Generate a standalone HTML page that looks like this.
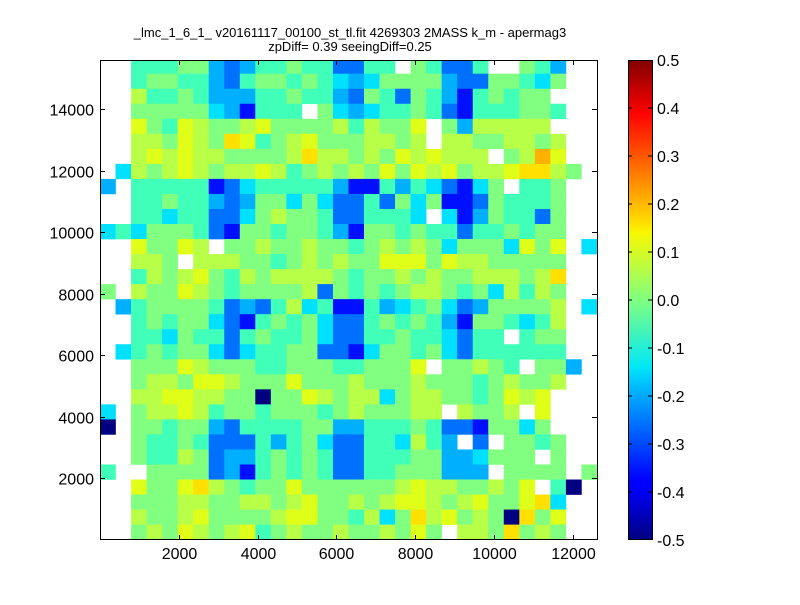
<!DOCTYPE html>
<html><head><meta charset="utf-8"><style>
body{margin:0;background:#fff;width:800px;height:600px;overflow:hidden}
svg text{font-family:"Liberation Sans",sans-serif}
</style></head><body>
<svg id="s" width="800" height="600" xmlns="http://www.w3.org/2000/svg">
<defs><linearGradient id="jet" x1="0" y1="1" x2="0" y2="0">
<stop offset="0" stop-color="#000080"/><stop offset="0.11" stop-color="#0000ff"/>
<stop offset="0.125" stop-color="#0000ff"/><stop offset="0.34" stop-color="#00d0ff"/>
<stop offset="0.36" stop-color="#00e8f8"/><stop offset="0.5" stop-color="#80ff80"/>
<stop offset="0.64" stop-color="#f8f800"/><stop offset="0.66" stop-color="#ffe000"/>
<stop offset="0.89" stop-color="#ff0000"/><stop offset="1" stop-color="#800000"/>
</linearGradient></defs>
<g id="cells"></g>
<rect x="100.5" y="60.5" width="497" height="479" fill="none" stroke="#000" stroke-width="1"/>
<g id="ticks" stroke="#000" stroke-width="1"></g>
<g font-size="16" text-anchor="middle" id="xl"></g>
<g font-size="16" text-anchor="end" id="yl"></g>
<text x="350" y="37" font-size="13" text-anchor="middle">_lmc_1_6_1_ v20161117_00100_st_tl.fit 4269303 2MASS k_m - apermag3</text>
<text x="350" y="51" font-size="13" text-anchor="middle">zpDiff= 0.39 seeingDiff=0.25</text>
<rect x="628" y="60" width="24" height="480" fill="url(#jet)"/>
<rect x="628.5" y="60.5" width="24" height="479" fill="none" stroke="#000"/>
<g id="cb" font-size="16" stroke="#000"></g>
</svg>
<script>
var rows=[
"WWtttggLBLttgttBBttWgtBBtWWgtLWW",
"WWtggttLBtggtgtcLcggggLBBggtcgWW",
"WWyttgtLLLttgttLBgtBgtLDtgtggWWW",
"WWgggggcLDtttWgcLcttgtBDtttggtWW",
"WWYgtYyggyYggggytyggYWgLyyyyyWWW",
"WWyygYygOYtgyYgggyygyWyyggyygyWW",
"WWyYyYyyggggyOyygygYyYyyyWgyoYWW",
"WcygyYygyyYytgygygYgYyYgyyYOOygW",
"LWtttttDBctttttLDDtLtcBDcgWttgWW",
"WWttgttLBLggcgcBBtBgcgDDBgtttgWW",
"WWttcttBBcgyggtBBtttcWcDLgttBgWW",
"ctcgggtBDggtggtLDggtgttBttgtggWW",
"WWYggYyWggyggyggtgygygcgggcYgYWc",
"WWyygWyyyggtgygyggYYYgYyygggggWW",
"WWtygyYgtygyyyygtggygyggyyygyOWW",
"gWyggYygtggggyBgtgtgyygtgcytygWW",
"WLtggggtBLBtyctDDtLctgcBLggggyWc",
"WWtgtggcBDtgtgcBBtgtgtLDggtctyWW",
"WWttcgttBtgttgcBBttgttcBttWtggWW",
"WctgtggcBcttggBBDcggtgcBttttttWW",
"WWgggYygggttgggttgggYWggygtWggLW",
"WWgyygYYygggYgggygggygggtgyggyWW",
"WWyyYYyyggNggYygyycgyyggtgYyYWWW",
"cWgyyYytggtgggtgygggyyWyggyWYWWW",
"NWggtggLBttttggLLtttgtBBDggcgWWW",
"WWgttgtBBBtLtgcBBttcytLWBWggtgWW",
"WWgttygBLLtgtgtBBtttggLLcgggWgWW",
"tWWggggBLDtgtgtBBttgggLLLWggggWg",
"WWYggYOygtggYggggggyYyyggygYWtNW",
"WWgggyyggyygyYggygyYYygyYggYOcWW",
"WWyggyYggggyYYggtycgOyYgygNOgYWW",
"WWgygYygyYtgyggyggygYgWyygOgygWW"];
var col={N:"#000080",D:"#0010ff",B:"#0070ff",L:"#00b0ff",c:"#00e0ff",t:"#40ffb8",g:"#80ff80",y:"#b8ff48",Y:"#e0ff18",O:"#ffe000",o:"#ffb000"};
var h="",cw=15.53,rh=15.03;
for(var r=0;r<rows.length;r++){var s=rows[r];
 var y0=r==0?60:73.7+rh*(r-1),y1=73.7+rh*r;
 for(var c=0;c<32;c++){var k=s[c];if(!k||k=="W")continue;
  var x0=100+cw*c;
  h+='<rect x="'+x0.toFixed(2)+'" y="'+y0.toFixed(2)+'" width="'+(cw+0.3).toFixed(2)+'" height="'+(y1-y0+0.3).toFixed(2)+'" fill="'+col[k]+'"/>';}}
document.getElementById("cells").innerHTML=h;
var t="",xl="",yl="",cb="";
for(var v=2000;v<=12000;v+=2000){var x=100+v*0.0394;x=Math.round(x)+0.5;
 t+='<line x1="'+x+'" y1="540" x2="'+x+'" y2="535"/><line x1="'+x+'" y1="60" x2="'+x+'" y2="65"/>';
 xl+='<text x="'+x+'" y="559">'+v+'</text>';}
for(var v=2000;v<=14000;v+=2000){var y=539.5-v*0.03075;y=Math.round(y)+0.5;
 t+='<line x1="100" y1="'+y+'" x2="105" y2="'+y+'"/><line x1="597" y1="'+y+'" x2="592" y2="'+y+'"/>';
 yl+='<text x="94" y="'+(y+6)+'">'+v+'</text>';}
document.getElementById("ticks").innerHTML=t;
document.getElementById("xl").innerHTML=xl;
document.getElementById("yl").innerHTML=yl;
for(var i=0;i<=10;i++){var y=60+48*i;var v=(0.5-0.1*i).toFixed(1);if(v=="-0.0")v="0.0";
 var yy=Math.min(Math.max(y,60.5),539.5);
 cb+='<line x1="628" y1="'+yy+'" x2="632" y2="'+yy+'"/><line x1="652" y1="'+yy+'" x2="648" y2="'+yy+'"/>';
 cb+='<text x="657" y="'+(y+6)+'" stroke="none">'+v+'</text>';}
document.getElementById("cb").innerHTML=cb;
</script>
</body></html>
